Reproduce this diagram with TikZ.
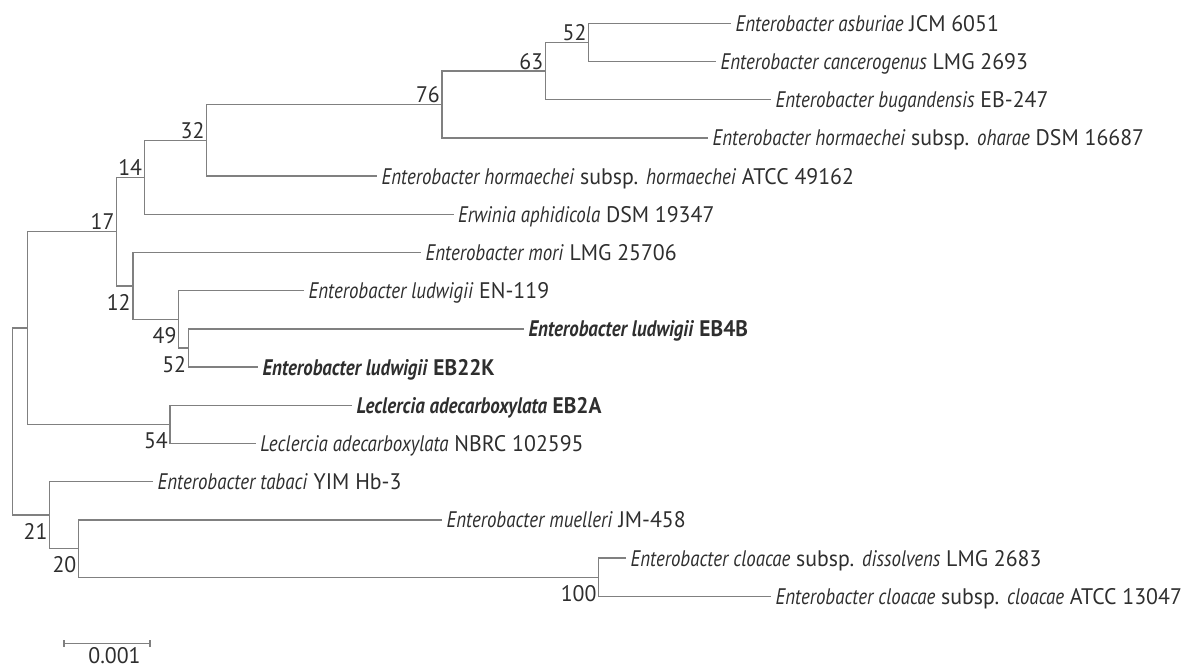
\documentclass[tikz,border=0pt]{standalone}
\usepackage{fontspec}
\setmainfont{PT Sans}[
  UprightFeatures={FakeStretch=0.97},
  BoldFeatures={FakeStretch=0.95},
  ItalicFeatures={FakeStretch=0.84},
  BoldItalicFeatures={FakeStretch=0.84}]
\definecolor{branchgray}{HTML}{808080}
\definecolor{txtgray}{HTML}{2E2E2E}
\begin{document}
\begin{tikzpicture}[x=1pt,y=-1pt,
  branch/.style={draw=branchgray, line width=1.4pt},
  treefont/.style={text=txtgray, font=\fontsize{22.5}{24}\selectfont},
  leaf/.style={treefont, anchor=west, inner xsep=4.5pt, inner ysep=0pt, text height=16pt, text depth=0pt},
  bsup/.style={treefont, anchor=south east, inner xsep=2pt, inner ysep=1.5pt},
  bsdn/.style={treefont, anchor=north east, inner xsep=2pt, inner ysep=0pt, yshift=-8pt}]
\useasboundingbox (0,0) rectangle (1181,668);
% leaves
\node[leaf] (l1)  at (731,23.3)  {\textit{Enterobacter asburiae} JCM 6051};
\node[leaf] (l2)  at (716,61.5)  {\textit{Enterobacter cancerogenus} LMG 2693};
\node[leaf] (l3)  at (771,99.7)  {\textit{Enterobacter bugandensis} EB-247};
\node[leaf] (l4)  at (708,137.9) {\textit{Enterobacter hormaechei} subsp. \textit{oharae} DSM 16687};
\node[leaf] (l5)  at (377,176.1) {\textit{Enterobacter hormaechei} subsp. \textit{hormaechei} ATCC 49162};
\node[leaf] (l6)  at (453.5,214.3) {\textit{Erwinia aphidicola} DSM 19347};
\node[leaf] (l7)  at (421,252.5) {\textit{Enterobacter mori} LMG 25706};
\node[leaf] (l8)  at (304,290.7) {\textit{Enterobacter ludwigii} EN-119};
\node[leaf] (l9)  at (524,328.9) {\textbf{\textit{Enterobacter ludwigii} EB4B}};
\node[leaf] (l10) at (258,367.1) {\textbf{\textit{Enterobacter ludwigii} EB22K}};
\node[leaf] (l11) at (352,405.3) {\textbf{\textit{Leclercia adecarboxylata} EB2A}};
\node[leaf] (l12) at (255.6,443.5) {\textit{Leclercia adecarboxylata} NBRC 102595};
\node[leaf] (l13) at (153,481.7) {\textit{Enterobacter tabaci} YIM Hb-3};
\node[leaf] (l14) at (442,519.9) {\textit{Enterobacter muelleri} JM-458};
\node[leaf] (l15) at (626,558.1) {\textit{Enterobacter cloacae} subsp. \textit{dissolvens} LMG 2683};
\node[leaf] (l16) at (771,596.3) {\textit{Enterobacter cloacae} subsp. \textit{cloacae} ATCC 13047};
% internal nodes
\coordinate (n52a) at (588.6,42.4);
\coordinate (n63)  at (545.4,71.05);
\coordinate (n76)  at (442,104.5);
\coordinate (n32)  at (206.7,140.3);
\coordinate (n14)  at (144.3,177.3);
\coordinate (n52b) at (188.3,348);
\coordinate (n49)  at (178.7,319.35);
\coordinate (n12)  at (132.8,285.9);
\coordinate (n17)  at (116.7,231.6);
\coordinate (n54)  at (170,424.4);
\coordinate (nX)   at (27.6,328);
\coordinate (n100) at (598.7,577.2);
\coordinate (n20)  at (78.5,548.55);
\coordinate (n21)  at (49.7,515.1);
\coordinate (root) at (12.6,421.6);
% branches
\draw[branch] (l1.west) -| (n52a) |- (l2.west);
\draw[branch] (n52a) -| (n63) |- (l3.west);
\draw[branch] (n63) -| (n76) |- (l4.west);
\draw[branch] (n76) -| (n32) |- (l5.west);
\draw[branch] (n32) -| (n14) |- (l6.west);
\draw[branch] (l9.west) -| (n52b) |- (l10.west);
\draw[branch] (l8.west) -| (n49) |- (n52b);
\draw[branch] (l7.west) -| (n12) |- (n49);
\draw[branch] (n14) -| (n17) |- (n12);
\draw[branch] (l11.west) -| (n54) |- (l12.west);
\draw[branch] (n17) -| (nX) |- (n54);
\draw[branch] (l15.west) -| (n100) |- (l16.west);
\draw[branch] (l14.west) -| (n20) |- (n100);
\draw[branch] (l13.west) -| (n21) |- (n20);
\draw[branch] (nX) -| (root) |- (n21);
% bootstrap values
\node[bsup] (b52a) at (n52a) {52};
\node[bsup] (b63)  at (n63)  {63};
\node[bsup] (b76)  at (n76)  {76};
\node[bsup] (b32)  at (n32)  {32};
\node[bsup] (b14)  at (n14)  {14};
\node[bsup] (b17)  at (n17)  {17};
\node[bsdn] (b12)  at (n12)  {12};
\node[bsdn] (b49)  at (n49)  {49};
\node[bsdn] (b52b) at (n52b) {52};
\node[bsdn] (b54)  at (n54)  {54};
\node[bsdn] (b21)  at (n21)  {21};
\node[bsdn] (b20)  at (n20)  {20};
\node[bsdn] (b100) at (n100) {100};
% scale bar
\coordinate (sbL) at (64,643.5);
\coordinate (sbR) at (150,643.5);
\draw[branch] (sbL) -- (sbR);
\draw[branch] ([yshift=3.5pt]sbL) -- ([yshift=-3.5pt]sbL);
\draw[branch] ([yshift=3.5pt]sbR) -- ([yshift=-3.5pt]sbR);
\node[treefont, anchor=north, inner sep=0pt, text depth=0pt] (sbt) at (114.5,647) {0.001};
\end{tikzpicture}
\end{document}
